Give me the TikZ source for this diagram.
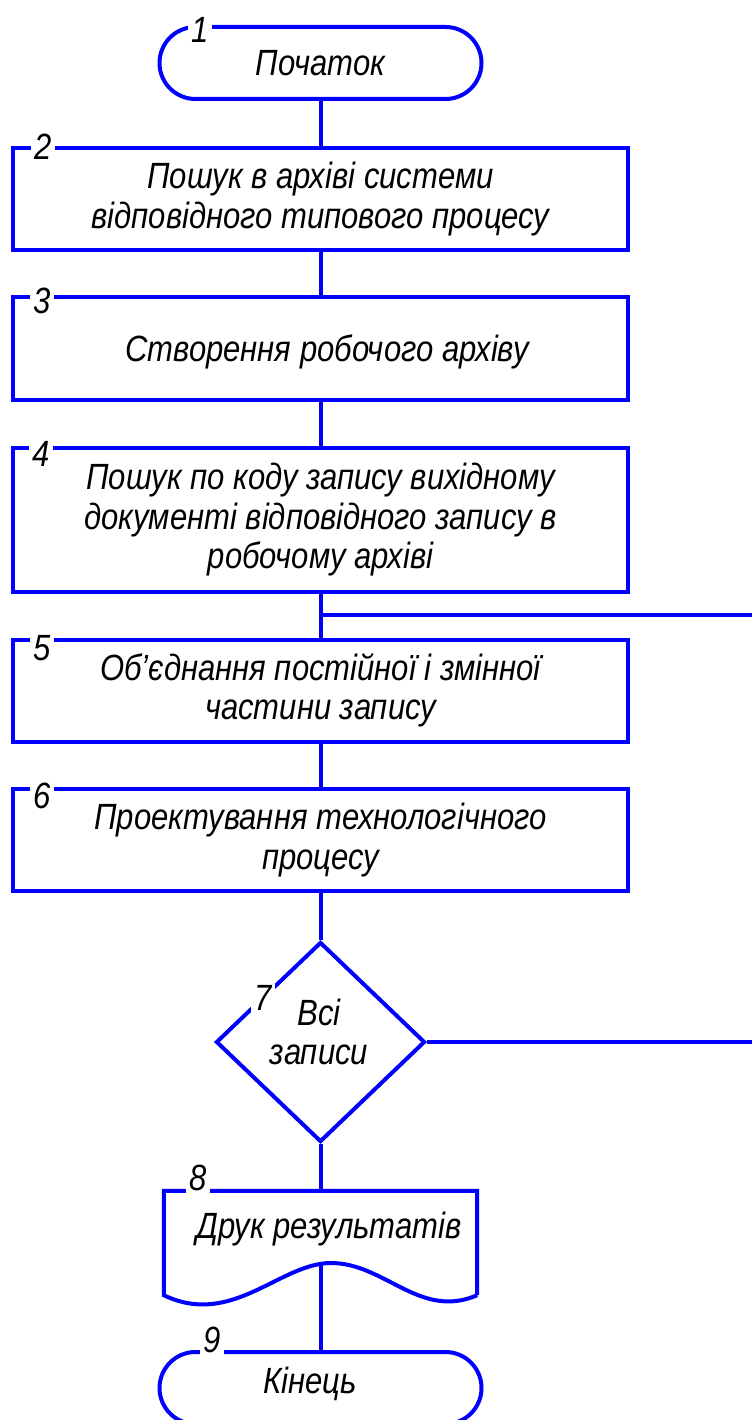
\documentclass[tikz,border=0pt]{standalone}
\usepackage{fontspec}
\setmainfont{Liberation Sans}[FakeStretch=0.85]
\usetikzlibrary{shapes.geometric}
\definecolor{fcblue}{RGB}{0,0,255}
\begin{document}
\begin{tikzpicture}[x=1pt,y=-1pt,
  every node/.style={font=\fontsize{36.5}{39.5}\selectfont\itshape, text=black},
  shp/.style={draw=fcblue, line width=4pt},
  proc/.style={shp, rectangle, minimum width=615pt, minimum height=102pt, align=center, inner sep=0pt},
  term/.style={shp, rectangle, rounded corners=36pt, minimum width=322pt, minimum height=72pt, inner sep=0pt},
  dec/.style={shp, diamond, minimum width=209pt, minimum height=200pt, inner sep=0pt},
  num/.style={fill=white, inner sep=3pt},
  conn/.style={draw=fcblue, line width=4pt}]
\useasboundingbox (0,0) rectangle (752,1420);
% shapes
\node[term] (n1) at (320.5,63) {Початок};
\node[proc] (n2) at (320.5,199) {Пошук в архіві системи\\відповідного типового процесу};
\node[proc] (n3) at (320.5,348.5) {};
\node (t3) at (327,352) {Створення робочого архіву};
\node[proc, minimum height=144pt] (n4) at (320.5,520) {Пошук по коду запису вихідному\\документі відповідного запису в\\робочому архіві};
\node[proc] (n5) at (320.5,690.5) {Об’єднання постійної і змінної\\частини запису};
\node[proc] (n6) at (320.5,840) {Проектування технологічного\\процесу};
\node[dec] (n7) at (320.5,1042) {};
\node[align=center] (t7) at (319,1032) {Всі\\записи};
\node[minimum width=313pt, minimum height=104pt, inner sep=0pt] (n8) at (320.5,1243) {};
\draw[shp] (n8.south east) -- (n8.north east) -- (n8.north west) -- (n8.south west)
  .. controls (232,1328) and (280,1263) .. (331,1263)
  .. controls (385,1263) and (420,1320) .. (n8.south east);
\node (t8) at (329,1229) {Друк результатів};
\coordinate (w8) at (320.5,1264);
\node[term] (n9) at (320.5,1388) {};
\node (t9) at (310,1384) {Кінець};
% connectors
\draw[conn] (n1.south) -- (n2.north);
\draw[conn] (n2.south) -- (n3.north);
\draw[conn] (n3.south) -- (n4.north);
\draw[conn] (n4.south) -- (n5.north);
\draw[conn] (n5.south) -- (n6.north);
\draw[conn] (n6.south) -- (n7.north);
\draw[conn] (n7.south) -- (n8.north);
\draw[conn] (w8) -- (n9.north);
\coordinate (r1) at (752,615);
\draw[conn] (r1) -- (r1 -| n4.south);
\coordinate (r2) at (752,1042);
\draw[conn] (n7.east) -- (r2);
% numbers
\node[num] (l1) at (200,30) {1};
\node[num] (l2) at (43,147) {2};
\node[num] (l3) at (42,301) {3};
\node[num] (l4) at (41,454) {4};
\node[num] (l5) at (42,648) {5};
\node[num] (l6) at (42,796) {6};
\node[num] (l7) at (263,998) {7};
\node[num] (l8) at (198,1178) {8};
\node[num] (l9) at (212,1340) {9};
\end{tikzpicture}
\end{document}
